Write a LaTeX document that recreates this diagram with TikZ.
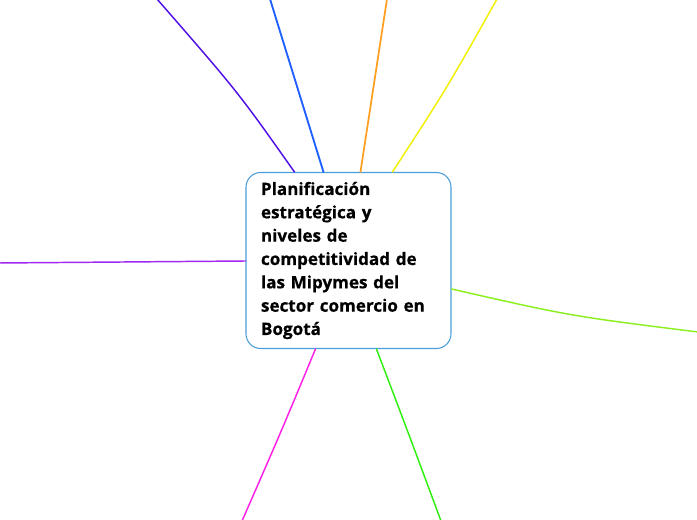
\documentclass[tikz,border=0pt]{standalone}
\usepackage{fontspec}
\setmainfont{Open Sans}[BoldFeatures={FakeBold=0.6}]
\usetikzlibrary{calc}
\definecolor{cA}{HTML}{5010E8}
\definecolor{cB}{HTML}{1F60FF}
\definecolor{cC}{HTML}{FF9F1F}
\definecolor{cD}{HTML}{F0F000}
\definecolor{cE}{HTML}{A228F0}
\definecolor{cF}{HTML}{8CF020}
\definecolor{cG}{HTML}{FF20E8}
\definecolor{cH}{HTML}{30F010}
\definecolor{nodeborder}{HTML}{4A9EDB}
\begin{document}
\begin{tikzpicture}[x=0.75pt,y=-0.75pt,
  centralbox/.style={draw=nodeborder, line width=0.8pt, fill=white, rounded corners=11pt,
    minimum width=153.75pt, minimum height=132pt, inner xsep=11.25pt, inner ysep=0pt,
    align=left, text width=131.25pt,
    font=\fontsize{12.8pt}{17.5pt}\selectfont\bfseries},
  branch/.style={line width=1.1pt, line cap=round}]
\useasboundingbox (0,0) rectangle (697,520);
\node[centralbox] (c) at (348.5,260.5) {Planificación\\estratégica y\\niveles de\\competitividad de\\las Mipymes del\\sector comercio en\\Bogotá};
\coordinate (e1) at (157,-1);
\coordinate (e2) at (270,-1);
\coordinate (e3) at (387,-1);
\coordinate (e4) at (497,-1);
\coordinate (e5) at (-1,263);
\coordinate (e6) at (698,332);
\coordinate (e7) at (242,521);
\coordinate (e8) at (441,521);
\draw[branch, cA] ($(c.north west)+(49,0)$) .. controls (238,92) .. (e1);
\draw[branch, cB, line width=1.4pt] ($(c.north west)+(78,0)$) .. controls (296,85) .. (e2);
\draw[branch, cC, line width=1.3pt] ($(c.north west)+(115,0)$) .. controls (373,85) .. (e3);
\draw[branch, cD] ($(c.north west)+(147,0)$) .. controls (447,88) .. (e4);
\draw[branch, cE] ($(c.west)+(0,0.5)$) -- (e5);
\draw[branch, cF] ($(c.east)+(0,28.5)$) .. controls (570,316) .. (e6);
\draw[branch, cG] ($(c.south west)+(70,0)$) .. controls (281,432) .. (e7);
\draw[branch, cH] ($(c.south west)+(131,0)$) .. controls (408,432) .. (e8);
\end{tikzpicture}
\end{document}
